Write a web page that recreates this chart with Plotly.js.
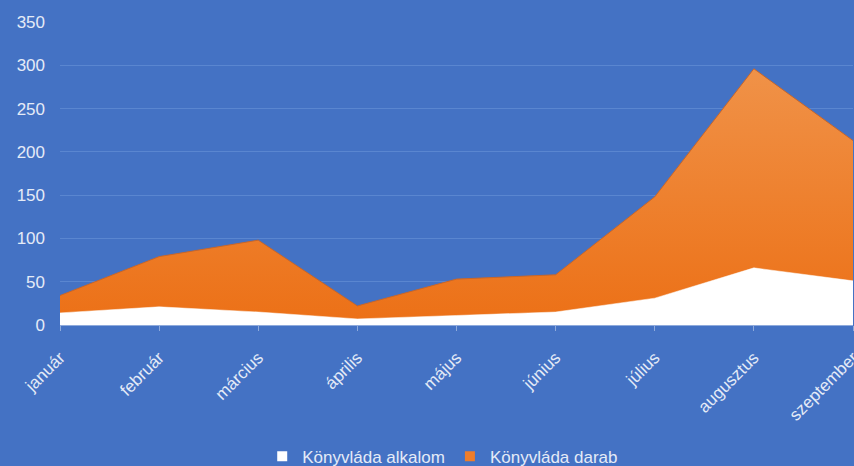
<!DOCTYPE html>
<html>
<head>
<meta charset="utf-8">
<script src="https://cdn.plot.ly/plotly-3.0.1.min.js"></script>
<style>html,body{margin:0;padding:0;background:#4472c4;}#chart{width:854px;height:466px;}</style>
</head>
<body>
<div id="chart"></div>
<script>
const months = ["január","február","március","április","május","június","július","augusztus","szeptember"];
const alkalom = [14, 21, 15, 7, 11, 15, 31, 66, 51];
const darab = [34, 79, 98, 22, 53, 58, 148, 296, 213];
const yTicks = [0, 50, 100, 150, 200, 250, 300, 350];
const seriesNames = ["Könyvláda alkalom", "Könyvláda darab"];

const font = "'Liberation Sans', Arial, sans-serif";
const traces = [
  {
    x: months, y: darab, name: seriesNames[1], type: "scatter", mode: "lines",
    fill: "tozeroy", showlegend: false,
    line: {color: "#c8662a", width: 1},
    fillcolor: "#f07d22",
    fillgradient: {type: "vertical", colorscale: [[0, "#ec7016"], [1, "#f09248"]]},
    hoverinfo: "skip"
  },
  {
    x: months, y: alkalom, name: seriesNames[0], type: "scatter", mode: "lines",
    fill: "tozeroy", showlegend: false,
    line: {color: "#ffffff", width: 0.5},
    fillcolor: "#ffffff",
    hoverinfo: "skip"
  },
  {
    x: [null], y: [null], name: seriesNames[0], type: "scatter", mode: "markers",
    marker: {symbol: "square", size: 10, color: "#ffffff"}, hoverinfo: "skip"
  },
  {
    x: [null], y: [null], name: seriesNames[1], type: "scatter", mode: "markers",
    marker: {symbol: "square", size: 10, color: "#ee7d2a"}, hoverinfo: "skip"
  }
];
const layout = {
  width: 854, height: 466,
  paper_bgcolor: "#4472c4", plot_bgcolor: "#4472c4",
  margin: {l: 60, r: 1, t: 22, b: 141, autoexpand: false},
  showlegend: true,
  legend: {orientation: "h", x: 0.255, xanchor: "left", y: -0.435, yanchor: "middle",
    font: {family: font, size: 17, color: "#e4ebf7"}, bgcolor: "rgba(0,0,0,0)",
    itemwidth: 30, tracegroupgap: 0},
  xaxis: {
    type: "category", range: [0, 8], tickangle: -45,
    tickfont: {family: font, size: 17, color: "#e4ebf7"},
    ticks: "outside", ticklen: 5, tickcolor: "#8eaadc", showgrid: false,
    showline: true, linecolor: "#8eaadc", linewidth: 1, zeroline: false,
    ticklabelstandoff: 10, fixedrange: true
  },
  yaxis: {
    range: [0, 350], tickvals: yTicks, ticktext: yTicks.map(String),
    tickfont: {family: font, size: 17, color: "#e4ebf7"},
    showgrid: true, gridcolor: "#5a86d0", gridwidth: 1, zeroline: false,
    showline: false, ticks: "", ticklabelstandoff: 14, fixedrange: true
  }
};
Plotly.newPlot("chart", traces, layout, {staticPlot: true, displayModeBar: false});
</script>
</body>
</html>
